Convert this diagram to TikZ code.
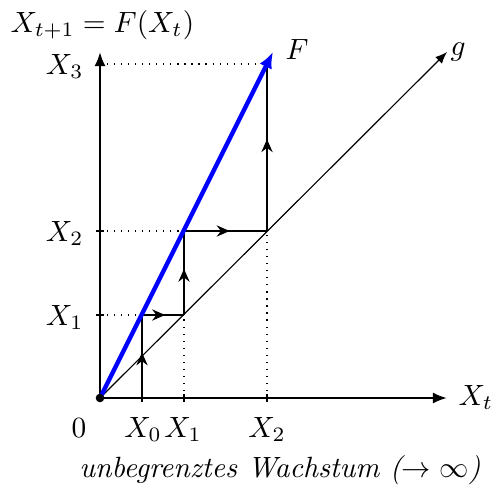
\documentclass[tikz,border=0pt]{standalone}
\usetikzlibrary{arrows.meta,decorations.markings}
\begin{document}
\begin{tikzpicture}[x=0.3413pt,y=-0.3413pt,
  axisline/.style={line width=0.8pt,-{Latex[length=4.8pt,width=3.8pt]}},
  cobweb/.style={line width=0.9pt,postaction={decorate},
    decoration={markings,mark=at position 0.55 with {\arrow{Stealth[length=4.4pt,width=3.8pt]}}}},
  guide/.style={dotted,line width=0.4pt},
  tickmark/.style={line width=0.8pt},
  fline/.style={blue,line width=1.5pt,-{Latex[length=5.5pt,width=4.6pt]}},
  gline/.style={line width=0.4pt,-{Latex[length=4pt,width=3.2pt]}},
  lbl/.style={inner sep=0pt}]
\useasboundingbox (0,0) rectangle (492,500);
% coordinates
\coordinate (O) at (100,398);
\coordinate (xend) at (447,398);
\coordinate (yend) at (100,52);
\coordinate (a0) at (142,398);
\coordinate (a1) at (184,398);
\coordinate (a2) at (267,398);
\coordinate (b1) at (100,315);
\coordinate (b2) at (100,231);
\coordinate (b3) at (100,64);
\coordinate (p1) at (142,315);
\coordinate (q1) at (184,315);
\coordinate (p2) at (184,231);
\coordinate (q2) at (267,231);
\coordinate (p3) at (267,64);
\coordinate (fend) at (273,52);
\coordinate (gend) at (447,52);
% guides
\draw[guide] (b1) -- (p1);
\draw[guide] (b2) -- (p2);
\draw[guide] (b3) -- (p3);
\draw[guide] (a1) -- (q1);
\draw[guide] (a2) -- (q2);
% g line
\draw[gline] (O) -- (gend);
% cobweb
\draw[cobweb] (a0) -- (p1);
\draw[cobweb] (p1) -- (q1);
\draw[cobweb] (q1) -- (p2);
\draw[cobweb] (p2) -- (q2);
\draw[cobweb] (q2) -- (p3);
% axes
\draw[axisline] (O) -- (xend);
\draw[axisline] (O) -- (yend);
% ticks
\foreach \c in {a0,a1,a2} \draw[tickmark] ([yshift=-4*0.3413pt]\c) -- ([yshift=4*0.3413pt]\c);
\foreach \c in {b1,b2,b3} \draw[tickmark] ([xshift=-4*0.3413pt]\c) -- ([xshift=4*0.3413pt]\c);
% F line
\draw[fline] (O) -- (fend);
\fill (O) circle[radius=4.3];
% labels
\node[lbl,anchor=base west] (title) at (10,32) {$X_{t+1}=F(X_t)$};
\node[lbl,anchor=base west] (xt) at (458,405) {$X_t$};
\node[lbl,anchor=base west] (Flbl) at (285,59) {$F$};
\node[lbl,anchor=base west] (glbl) at (450,55) {$g$};
\node[lbl,anchor=base] (zero) at (79,437) {$0$};
\node[lbl,anchor=base] (lx0) at (143,437) {$X_0$};
\node[lbl,anchor=base] (lx1) at (183,437) {$X_1$};
\node[lbl,anchor=base] (lx2) at (267,437) {$X_2$};
\node[lbl,anchor=base east] (ly1) at (84,325) {$X_1$};
\node[lbl,anchor=base east] (ly2) at (84,241) {$X_2$};
\node[lbl,anchor=base east] (ly3) at (84,74) {$X_3$};
\node[lbl,anchor=base] (caption) at (280,477) {\textit{unbegrenztes Wachstum ($\to\infty$)}};
\end{tikzpicture}
\end{document}
